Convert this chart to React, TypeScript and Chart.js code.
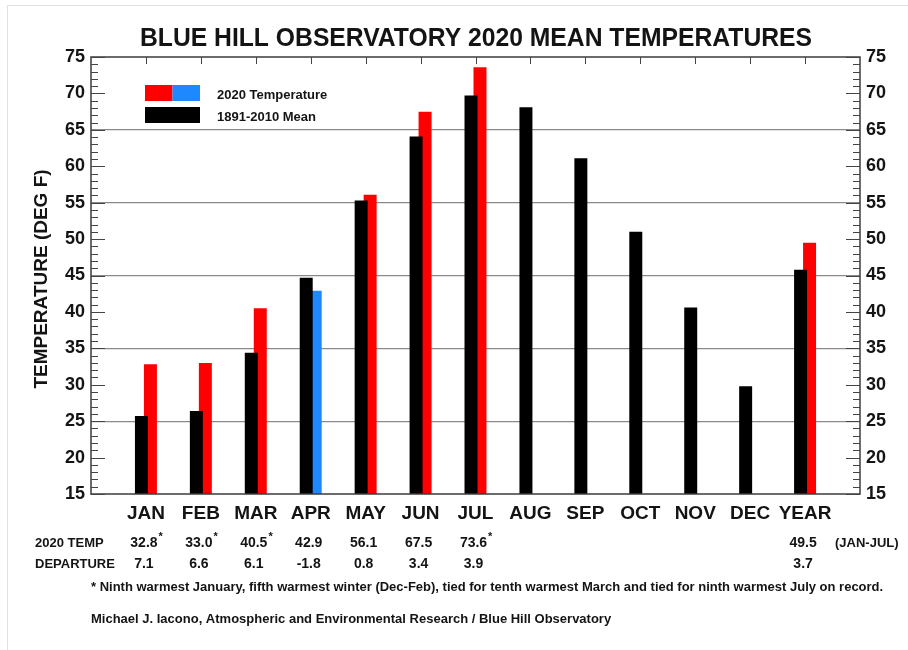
import React, { useEffect, useRef } from 'react';
import { Chart, registerables } from 'chart.js';

Chart.register(...registerables);

// ---------- data ----------
const categories = ['JAN', 'FEB', 'MAR', 'APR', 'MAY', 'JUN', 'JUL', 'AUG', 'SEP', 'OCT', 'NOV', 'DEC', 'YEAR'];
const mean18912010 = [25.7, 26.4, 34.4, 44.7, 55.3, 64.1, 69.7, 68.1, 61.1, 51.0, 40.6, 29.8, 45.8];
const temp2020: (number | null)[] = [32.8, 33.0, 40.5, 42.9, 56.1, 67.5, 73.6, null, null, null, null, null, 49.5];
const departure2020: (number | null)[] = [7.1, 6.6, 6.1, -1.8, 0.8, 3.4, 3.9, null, null, null, null, null, 3.7];
const starred = [true, true, true, false, false, false, true, false, false, false, false, false, false];
const yMin = 15;
const yMax = 75;
const yStep = 5;
const gridValues = [25, 35, 45, 55, 65];

const titleText = 'BLUE HILL OBSERVATORY 2020 MEAN TEMPERATURES';
const yAxisTitle = 'TEMPERATURE (DEG F)';
const legendLabels = ['2020 Temperature', '1891-2010 Mean'];
const rowLabels = ['2020 TEMP', 'DEPARTURE'];
const yearPeriodNote = '(JAN-JUL)';
const footnote = '* Ninth warmest January, fifth warmest winter (Dec-Feb), tied for tenth warmest March and tied for ninth warmest July on record.';
const credit = 'Michael J. Iacono, Atmospheric and Environmental Research / Blue Hill Observatory';

// ---------- style ----------
const FONT = "'Liberation Sans', Arial, Helvetica, sans-serif";
const RED = '#ff0000';
const BLUE = '#1e88ff';
const BLACK = '#000000';
const TEXT = '#141414';

const W = 908;
const H = 650;

const decorPlugin = {
  id: 'decor',
  afterDraw(chart: any) {
    const { ctx, chartArea: a, scales } = chart;
    const xs = scales.x;
    const ys = scales.y;
    ctx.save();

    const line = (x1: number, y1: number, x2: number, y2: number) => {
      ctx.beginPath();
      ctx.moveTo(x1, y1);
      ctx.lineTo(x2, y2);
      ctx.stroke();
    };

    // frame
    ctx.strokeStyle = '#3c3c3c';
    ctx.lineWidth = 1.5;
    ctx.strokeRect(a.left, a.top, a.right - a.left, a.bottom - a.top);

    // y tick marks (inside, both sides)
    ctx.lineWidth = 1;
    ctx.strokeStyle = '#444';
    for (let v = yMin; v <= yMax; v += 1) {
      const py = Math.round(ys.getPixelForValue(v)) + 0.5;
      const len = v % yStep === 0 ? 14 : 7;
      line(a.left, py, a.left + len, py);
      line(a.right - len, py, a.right, py);
    }
    // top tick marks at categories
    categories.forEach((_, i) => {
      const px = Math.round(xs.getPixelForValue(i)) + 0.5;
      line(px, a.top, px, a.top + 7);
    });

    // title (slightly condensed bold)
    ctx.fillStyle = TEXT;
    ctx.textAlign = 'center';
    ctx.textBaseline = 'middle';
    ctx.save();
    ctx.translate(476, 39);
    ctx.scale(0.95, 1);
    ctx.font = `bold 26px ${FONT}`;
    ctx.fillText(titleText, 0, 0);
    ctx.restore();

    // y axis title
    ctx.save();
    ctx.translate(42, 279);
    ctx.rotate(-Math.PI / 2);
    ctx.font = `bold 19px ${FONT}`;
    ctx.fillText(yAxisTitle, 0, 0);
    ctx.restore();

    // legend
    const ds = chart.data.datasets;
    const sx = 145;
    const sw = 55;
    const sh = 16;
    ctx.fillStyle = RED;
    ctx.fillRect(sx, 85, sw / 2, sh);
    ctx.fillStyle = BLUE;
    ctx.fillRect(sx + sw / 2, 85, sw / 2, sh);
    ctx.fillStyle = BLACK;
    ctx.fillRect(sx, 107, sw, sh);
    ctx.fillStyle = TEXT;
    ctx.textAlign = 'left';
    ctx.font = `bold 13px ${FONT}`;
    ctx.fillText(ds[1].label, 217, 95);
    ctx.fillText(ds[0].label, 217, 117);

    // table
    const rowY = [543, 564];
    ctx.font = `bold 13px ${FONT}`;
    ctx.textAlign = 'left';
    ctx.fillText(rowLabels[0], 35, rowY[0]);
    ctx.fillText(rowLabels[1], 35, rowY[1]);
    categories.forEach((_, i) => {
      const px = xs.getPixelForValue(i) - 2;
      const t = temp2020[i];
      const d = departure2020[i];
      ctx.font = `bold 14px ${FONT}`;
      ctx.textAlign = 'center';
      if (t !== null) {
        const s = t.toFixed(1);
        ctx.fillText(s, px, rowY[0]);
        if (starred[i]) {
          const w = ctx.measureText(s).width;
          ctx.font = `bold 11px ${FONT}`;
          ctx.textAlign = 'left';
          ctx.fillText('*', px + w / 2 + 1, rowY[0] - 6);
          ctx.font = `bold 14px ${FONT}`;
          ctx.textAlign = 'center';
        }
      }
      if (d !== null) {
        ctx.fillText(d.toFixed(1), px, rowY[1]);
      }
    });
    ctx.font = `bold 13px ${FONT}`;
    ctx.textAlign = 'left';
    ctx.fillText(yearPeriodNote, 835, rowY[0]);

    // notes
    ctx.font = `bold 13px ${FONT}`;
    ctx.fillText(footnote, 91, 587);
    ctx.fillText(credit, 91, 619);

    ctx.restore();
  },
};

export default function App() {
  const canvasRef = useRef<HTMLCanvasElement | null>(null);

  useEffect(() => {
    const canvas = canvasRef.current;
    if (!canvas) return;

    const tempColors = temp2020.map((t, i) => (t !== null && t < mean18912010[i] ? BLUE : RED));

    const chart = new Chart(canvas, {
      type: 'bar',
      data: {
        datasets: [
          {
            label: legendLabels[1],
            data: mean18912010.map((v, i) => ({ x: i, y: v })),
            backgroundColor: BLACK,
            borderWidth: 0,
          },
          {
            label: legendLabels[0],
            data: temp2020.map((v, i) => ({ x: i, y: v })),
            backgroundColor: tempColors,
            borderWidth: 0,
          },
        ],
      },
      options: {
        responsive: false,
        animation: false,
        devicePixelRatio: 1,
        layout: { padding: { top: 57, bottom: 116, left: 0, right: 0 } },
        datasets: {
          bar: {
            categoryPercentage: 18 / 55,
            barPercentage: 13 / 9,
          },
        },
        plugins: {
          legend: { display: false },
          title: { display: false },
          tooltip: { enabled: false },
        },
        scales: {
          x: {
            type: 'linear',
            min: -1,
            max: categories.length,
            offset: false,
            grid: { display: false, drawTicks: false },
            border: { display: false },
            afterFit: (s: any) => {
              s.height = 40;
            },
            ticks: {
              stepSize: 1,
              autoSkip: false,
              maxRotation: 0,
              padding: 8,
              color: TEXT,
              font: { family: FONT, size: 19, weight: 'bold' },
              callback: (v: any) => categories[v as number] ?? '',
            },
          },
          y: {
            type: 'linear',
            position: 'left',
            min: yMin,
            max: yMax,
            border: { display: false },
            grid: {
              drawTicks: false,
              color: (c: any) => (gridValues.includes(c.tick?.value) ? '#8a8a8a' : 'rgba(0,0,0,0)'),
              lineWidth: 1.2,
            },
            afterFit: (s: any) => {
              s.width = 91;
            },
            ticks: {
              stepSize: yStep,
              padding: 6,
              color: TEXT,
              font: { family: FONT, size: 18, weight: 'bold' },
            },
          },
          y2: {
            type: 'linear',
            position: 'right',
            min: yMin,
            max: yMax,
            border: { display: false },
            grid: { display: false, drawTicks: false },
            afterFit: (s: any) => {
              s.width = W - 860;
            },
            ticks: {
              stepSize: yStep,
              padding: 6,
              color: TEXT,
              font: { family: FONT, size: 18, weight: 'bold' },
            },
          },
        },
      } as any,
      plugins: [decorPlugin],
    });

    return () => chart.destroy();
  }, []);

  return (
    <div style={{ position: 'absolute', left: 0, top: 0, width: W, height: H, background: '#ffffff', overflow: 'hidden' }}>
      <div
        style={{
          position: 'absolute',
          left: 7,
          top: 5,
          width: W + 20,
          height: H + 20,
          borderLeft: '1px solid #e2e2e2',
          borderTop: '1px solid #e2e2e2',
        }}
      />
      <canvas ref={canvasRef} width={W} height={H} style={{ position: 'absolute', left: 0, top: 0, display: 'block' }} />
    </div>
  );
}
